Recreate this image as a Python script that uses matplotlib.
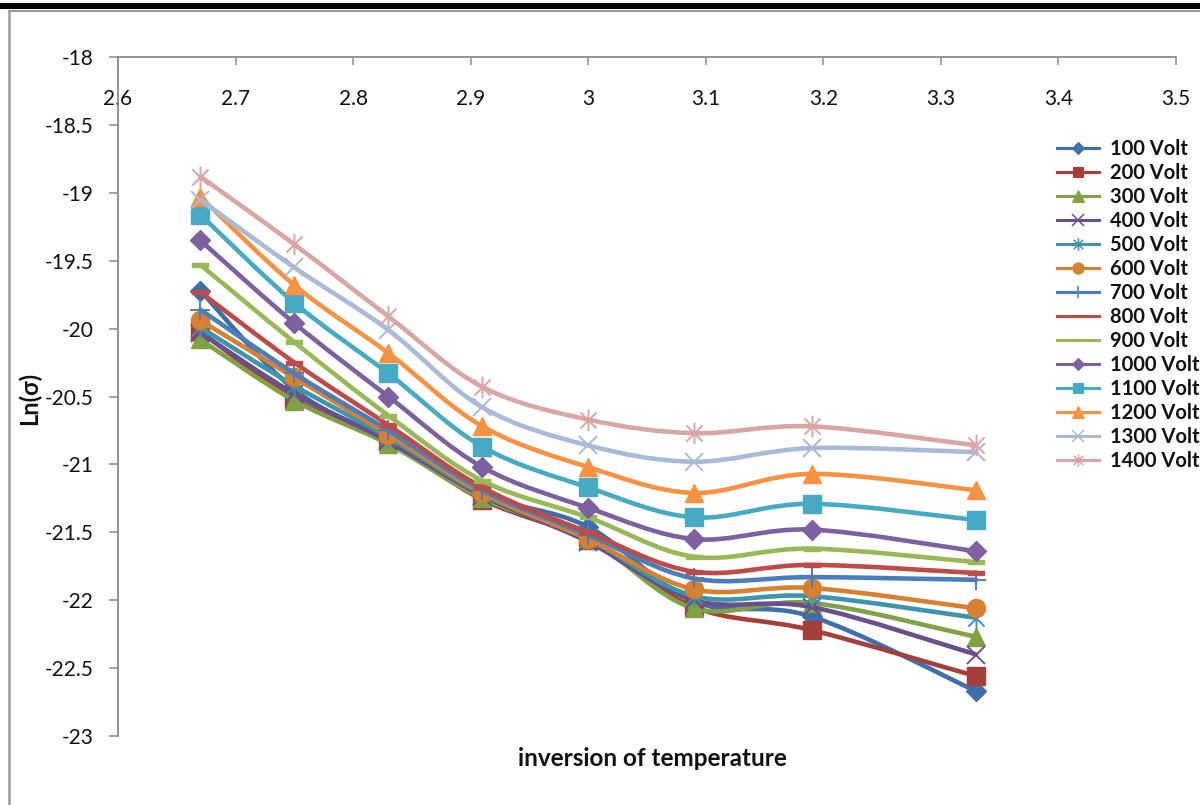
import matplotlib
matplotlib.use("Agg")
import matplotlib.pyplot as plt
import numpy as np
from matplotlib.path import Path
from matplotlib.patches import PathPatch
from matplotlib.lines import Line2D

# ---------------- data ----------------
inv_temp = [2.67, 2.75, 2.83, 2.91, 3.0, 3.09, 3.19, 3.33]

series_labels = ["100 Volt", "200 Volt", "300 Volt", "400 Volt", "500 Volt",
                 "600 Volt", "700 Volt", "800 Volt", "900 Volt", "1000 Volt",
                 "1100 Volt", "1200 Volt", "1300 Volt", "1400 Volt"]

v100 = [-19.72, -20.45, -20.82, -21.22, -21.46, -22.01, -22.12, -22.67]
v200 = [-20.02, -20.52, -20.83, -21.26, -21.56, -22.05, -22.22, -22.56]
v300 = [-20.08, -20.53, -20.85, -21.25, -21.55, -22.06, -22.02, -22.27]
v400 = [-20.03, -20.48, -20.83, -21.23, -21.57, -22.00, -22.05, -22.40]
v500 = [-19.99, -20.42, -20.80, -21.22, -21.55, -21.97, -21.97, -22.13]
v600 = [-19.94, -20.36, -20.78, -21.21, -21.55, -21.92, -21.91, -22.06]
v700 = [-19.86, -20.33, -20.75, -21.19, -21.52, -21.84, -21.83, -21.85]
v800 = [-19.73, -20.25, -20.71, -21.17, -21.50, -21.79, -21.74, -21.80]
v900 = [-19.53, -20.10, -20.64, -21.12, -21.39, -21.68, -21.62, -21.72]
v1000 = [-19.35, -19.96, -20.50, -21.02, -21.32, -21.55, -21.48, -21.64]
v1100 = [-19.16, -19.81, -20.33, -20.87, -21.17, -21.39, -21.29, -21.41]
v1200 = [-19.03, -19.68, -20.18, -20.72, -21.02, -21.21, -21.07, -21.19]
v1300 = [-19.05, -19.55, -20.01, -20.58, -20.86, -20.98, -20.88, -20.91]
v1400 = [-18.88, -19.38, -19.91, -20.43, -20.67, -20.77, -20.72, -20.86]

x_ticks = [2.6, 2.7, 2.8, 2.9, 3.0, 3.1, 3.2, 3.3, 3.4, 3.5]
x_tick_labels = ["2.6", "2.7", "2.8", "2.9", "3", "3.1", "3.2", "3.3", "3.4", "3.5"]
y_ticks = [-18, -18.5, -19, -19.5, -20, -20.5, -21, -21.5, -22, -22.5, -23]
y_tick_labels = ["-18", "-18.5", "-19", "-19.5", "-20", "-20.5", "-21", "-21.5",
                 "-22", "-22.5", "-23"]

# ---------------- styles ----------------
all_values = [v100, v200, v300, v400, v500, v600, v700, v800, v900, v1000,
              v1100, v1200, v1300, v1400]
colors = ["#3F6FAA", "#A53F3C", "#80A144", "#6A4F8C", "#3A95AD", "#D7802F",
          "#4A7EBB", "#BE4B48", "#98B954", "#7D60A0", "#46AAC5", "#F69240",
          "#A9BAD8", "#D9A6A5"]

asterisk = Path([(0, -1), (0, 1), (-0.75, -0.75), (0.75, 0.75),
                 (-0.75, 0.75), (0.75, -0.75)],
                [Path.MOVETO, Path.LINETO, Path.MOVETO, Path.LINETO,
                 Path.MOVETO, Path.LINETO])
dash = Path([(-1, -0.28), (1, -0.28), (1, 0.28), (-1, 0.28), (-1, -0.28)],
            [Path.MOVETO, Path.LINETO, Path.LINETO, Path.LINETO, Path.CLOSEPOLY])

markers = ["D", "s", "^", "x", asterisk, "o", "+", dash, dash, "D", "s", "^",
           "x", asterisk]
msizes = [10, 12.5, 13.5, 13.5, 15.5, 13, 14, 11, 12, 10, 12.5, 13.5, 13.5, 15.5]
leg_msizes = [6, 7.5, 8, 8, 9, 8, 9, 6.5, 7, 6, 7.5, 8, 8, 9]
open_markers = {"x", "+"}

FONT = ["Lato", "DejaVu Sans"]
plt.rcParams["font.family"] = FONT

W, H = 1200, 805
fig = plt.figure(figsize=(W / 100, H / 100), dpi=100)
ax = fig.add_axes([118 / W, (H - 736) / H, (1176 - 118) / W, (736 - 57) / H])


def smooth_path(xs, ys):
    pts = np.column_stack([xs, ys])
    n = len(pts)
    verts = [pts[0]]
    codes = [Path.MOVETO]
    for i in range(n - 1):
        p_prev = pts[max(i - 1, 0)]
        p0 = pts[i]
        p1 = pts[i + 1]
        p_next = pts[min(i + 2, n - 1)]
        c1 = p0 + (p1 - p_prev) / 6.0
        c2 = p1 - (p_next - p0) / 6.0
        verts += [c1, c2, p1]
        codes += [Path.CURVE4] * 3
    return Path(verts, codes)


handles = []
for k, (vals, col, mk, ms, lms, lab) in enumerate(
        zip(all_values, colors, markers, msizes, leg_msizes, series_labels)):
    z = 3 + k
    patch = PathPatch(smooth_path(inv_temp, vals), fill=False, ec=col, lw=3.3,
                      capstyle="round", joinstyle="round", zorder=z)
    ax.add_patch(patch)
    is_line_marker = (isinstance(mk, str) and mk in open_markers) or mk is asterisk
    mew = 1.4 if is_line_marker else 1.0
    ax.plot(inv_temp, vals, linestyle="none", marker=mk, markersize=ms,
            color=col, markeredgecolor=col, markeredgewidth=mew, zorder=z + 0.5)
    handles.append(Line2D([], [], color=col, lw=2.2, marker=mk, markersize=lms,
                          markeredgecolor=col,
                          markeredgewidth=1.1 if is_line_marker else 0.8,
                          label=lab))

ax.set_xlim(2.6, 3.5)
ax.set_ylim(-23, -18)

axis_gray = "#8A8A8A"
for s in ["top", "right"]:
    ax.spines[s].set_visible(False)
ax.spines["bottom"].set_position(("data", -18))
ax.spines["bottom"].set_color(axis_gray)
ax.spines["left"].set_color(axis_gray)
ax.spines["bottom"].set_linewidth(1.3)
ax.spines["left"].set_linewidth(1.3)

ax.set_xticks(x_ticks)
ax.set_xticklabels(x_tick_labels)
ax.set_yticks(y_ticks)
ax.set_yticklabels(y_tick_labels)
ax.tick_params(axis="x", direction="out", length=6, width=1.1, color=axis_gray,
               pad=17, labelsize=15, labelcolor="#111111")
ax.tick_params(axis="y", direction="out", length=6.5, width=1.1, color=axis_gray,
               pad=11, labelsize=15, labelcolor="#111111")

fig.text(652 / W, 1 - 758 / H, "inversion of temperature", ha="center",
         va="center", fontsize=17.5, fontweight="bold", color="#111111")
fig.text(29 / W, 1 - 398 / H, "Ln(σ)", ha="center", va="center", rotation=90,
         fontsize=17, fontweight="bold", color="#111111", family=FONT)

leg = fig.legend(handles=handles, loc="upper left",
                 bbox_to_anchor=(1057 / W, 1 - 139 / H), frameon=False,
                 borderpad=0, borderaxespad=0, handlelength=2.1,
                 handletextpad=0.55, labelspacing=0.2,
                 prop={"family": FONT, "size": 14.5, "weight": "bold"})
for t in leg.get_texts():
    t.set_color("#111111")

# document frame around the chart
fig.add_artist(plt.Rectangle((0, 1 - 9 / H), 1, 6 / H, transform=fig.transFigure,
                             color="black", lw=0))
fig.add_artist(Line2D([9 / W, 1], [1 - 11 / H, 1 - 11 / H], transform=fig.transFigure,
                      color="#9A9A9A", lw=1.5))
fig.add_artist(Line2D([9 / W, 9 / W], [0, 1 - 11 / H], transform=fig.transFigure,
                      color="#9A9A9A", lw=1.8))

fig.savefig("out.png", dpi=100)
